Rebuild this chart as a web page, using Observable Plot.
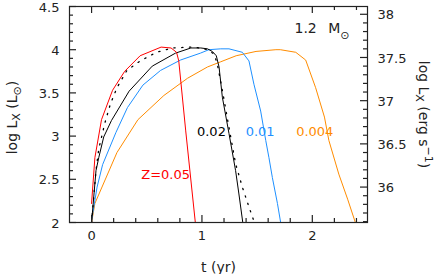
<!DOCTYPE html>
<html><head><meta charset="utf-8">
<script src="https://cdn.jsdelivr.net/npm/d3@7"></script>
<script src="https://cdn.jsdelivr.net/npm/@observablehq/plot@0.6"></script>
<style>body{margin:0;background:#fff}</style>
</head><body><div id="chart"></div>
<script>
// log L_sun in erg/s (offset between the two y axes)
const LSUN = 33.59;

// tick values
const xMajor = [0, 1, 2];
const xMinor = [0.2, 0.4, 0.6, 0.8, 1.2, 1.4, 1.6, 1.8, 2.2, 2.4];
const yMajor = [2, 2.5, 3, 3.5, 4, 4.5];
const yMinor = [2.1,2.2,2.3,2.4,2.6,2.7,2.8,2.9,3.1,3.2,3.3,3.4,3.6,3.7,3.8,3.9,4.1,4.2,4.3,4.4];
const ergMajor = [36, 36.5, 37, 37.5, 38];
const ergMinor = [35.6,35.7,35.8,35.9,36.1,36.2,36.3,36.4,36.6,36.7,36.8,36.9,37.1,37.2,37.3,37.4,37.6,37.7,37.8,37.9];

// series: [t (yr), log Lx (Lsun)]
const z005 = [[0,2.22],[0.03,2.75],[0.09,3.19],[0.19,3.53],[0.30,3.75],[0.44,3.93],[0.63,4.03],[0.72,4.02],[0.77,3.97],[0.79,3.87],[0.853,3.06],[0.94,2.0]];
const z002 = [[0,2.0],[0.04,2.6],[0.065,2.75],[0.11,2.99],[0.18,3.18],[0.34,3.52],[0.55,3.81],[0.76,3.96],[0.90,4.02],[0.99,4.02],[1.05,4.01],[1.094,3.98],[1.13,3.93],[1.155,3.80],[1.185,3.45],[1.245,3.03],[1.305,2.60],[1.335,2.33],[1.37,2.0]];
const z002dot = [[0,2.0],[0.04,2.6],[0.065,2.85],[0.12,3.15],[0.17,3.37],[0.23,3.56],[0.32,3.76],[0.44,3.87],[0.59,3.97],[0.73,4.02],[0.90,4.03],[0.98,4.02],[1.05,4.0],[1.11,3.95],[1.14,3.83],[1.185,3.53],[1.245,3.10],[1.305,2.68],[1.366,2.41],[1.426,2.18],[1.47,2.02]];
const z001 = [[0,2.02],[0.05,2.41],[0.10,2.67],[0.22,3.04],[0.325,3.33],[0.465,3.59],[0.625,3.76],[0.805,3.88],[0.986,3.96],[1.063,4.0],[1.17,4.01],[1.245,4.01],[1.366,3.97],[1.426,3.87],[1.471,3.60],[1.532,3.29],[1.578,2.95],[1.607,2.75],[1.638,2.52],[1.684,2.22],[1.713,2.0]];
const z0004 = [[0,2.0],[0.03,2.22],[0.23,2.81],[0.42,3.19],[0.655,3.47],[0.87,3.67],[1.05,3.80],[1.17,3.86],[1.31,3.93],[1.49,3.98],[1.67,4.0],[1.71,4.0],[1.85,3.97],[1.94,3.88],[2.03,3.56],[2.11,3.22],[2.15,2.95],[2.24,2.56],[2.32,2.27],[2.39,2.0]];

// curve annotations
const curveLabels = [
  {text: "Z=0.05", x: 0.671, y: 2.5, color: "#ff0000"},
  {text: "0.02", x: 1.086, y: 3.0, color: "#000000"},
  {text: "0.01", x: 1.527, y: 3.0, color: "#1e90ff"},
  {text: "0.004", x: 2.022, y: 3.0, color: "#ff8c00"}
];

const PW = 436 - 69 - 69, PH = 274 - 6 - 52;
const fc = "#222";
const acc = d => d[0], acy = d => d[1];

const chart = Plot.plot({
  width: 436, height: 274,
  marginTop: 6, marginRight: 69, marginBottom: 52, marginLeft: 69,
  style: {fontFamily: "'DejaVu Sans', sans-serif", fontSize: "13px", color: "#222", background: "#fff"},
  x: {domain: [-0.2, 2.5]},
  y: {domain: [2, 4.5]},
  marks: [
    Plot.line(z0004, {x: acc, y: acy, stroke: "#ff8c00", strokeWidth: 1, clip: true}),
    Plot.line(z001, {x: acc, y: acy, stroke: "#1e90ff", strokeWidth: 1, clip: true}),
    Plot.line(z002dot, {x: acc, y: acy, stroke: "#000", strokeWidth: 1.3, strokeDasharray: "1.3,6.5", clip: true}),
    Plot.line(z002, {x: acc, y: acy, stroke: "#000", strokeWidth: 1, clip: true}),
    Plot.line(z005, {x: acc, y: acy, stroke: "#ff0000", strokeWidth: 1, clip: true}),
    Plot.text(curveLabels, {x: "x", y: "y", text: "text", fill: "color", fontSize: 13, lineAnchor: "bottom", textAnchor: "middle"}),
    // inward tick marks
    Plot.tickX(xMinor, {x: d => d, insetTop: PH - 4, stroke: fc, strokeWidth: 1.2}),
    Plot.tickX(xMajor, {x: d => d, insetTop: PH - 7, stroke: fc, strokeWidth: 1.2}),
    Plot.tickX(xMinor, {x: d => d, insetBottom: PH - 4, stroke: fc, strokeWidth: 1.2}),
    Plot.tickX(xMajor, {x: d => d, insetBottom: PH - 7, stroke: fc, strokeWidth: 1.2}),
    Plot.tickY(yMinor, {y: d => d, insetRight: PW - 4, stroke: fc, strokeWidth: 1.2}),
    Plot.tickY(yMajor, {y: d => d, insetRight: PW - 7, stroke: fc, strokeWidth: 1.2}),
    Plot.tickY(ergMinor, {y: d => d - LSUN, insetLeft: PW - 4, stroke: fc, strokeWidth: 1.2}),
    Plot.tickY(ergMajor, {y: d => d - LSUN, insetLeft: PW - 7, stroke: fc, strokeWidth: 1.2}),
    Plot.frame({stroke: fc, strokeWidth: 1.2}),
    // axes labels
    Plot.axisX({ticks: xMajor, anchor: "bottom", tickSize: 0, tickPadding: 8, label: null, tickFormat: d => String(d)}),
    Plot.axisY({ticks: yMajor, anchor: "left", tickSize: 0, tickPadding: 10, label: null, tickFormat: d => String(d), dy: 1}),
    Plot.axisY({ticks: ergMajor.map(v => v - LSUN), anchor: "right", tickSize: 0, tickPadding: 10, label: null, dy: 1,
      tickFormat: d => String(Math.round((d + LSUN) * 10) / 10)}),
    Plot.text(["t (yr)"], {text: d => d, frameAnchor: "bottom", dy: 45, lineAnchor: "middle", textAnchor: "middle", fontSize: 14, fill: "#222"}),
    Plot.text(["LEFTLABEL"], {text: d => d, frameAnchor: "left", dx: -57, dy: 3, rotate: -90, textAnchor: "middle", lineAnchor: "middle", fontSize: 14, fill: "#222"}),
    Plot.text(["RIGHTLABEL"], {text: d => d, frameAnchor: "right", dx: 56, rotate: 90, textAnchor: "middle", lineAnchor: "middle", fontSize: 14, fill: "#222"}),
    Plot.text(["MASSLABEL"], {text: d => d, frameAnchor: "top-left", dx: 225, dy: 26, lineAnchor: "bottom", textAnchor: "start", fontSize: 14, fill: "#222"})
  ]
});

const svg = d3.select(chart);
svg.selectAll("text").each(function() {
  const t = this.textContent;
  if (t === "LEFTLABEL") {
    this.innerHTML = 'log L<tspan dy="3" font-size="11">X</tspan><tspan dy="-3"> (L</tspan><tspan dy="4" font-size="11">⊙</tspan><tspan dy="-4">)</tspan>';
  } else if (t === "RIGHTLABEL") {
    this.innerHTML = 'log L<tspan dy="3" font-size="11">X</tspan><tspan dy="-3"> (erg s</tspan><tspan dy="-6" font-size="11">−1</tspan><tspan dy="6">)</tspan>';
  } else if (t === "MASSLABEL") {
    this.innerHTML = '1.2<tspan dx="11.5">M</tspan><tspan dy="6" font-size="11">⊙</tspan>';
  }
});
document.getElementById("chart").appendChild(chart);
</script>
</body></html>
